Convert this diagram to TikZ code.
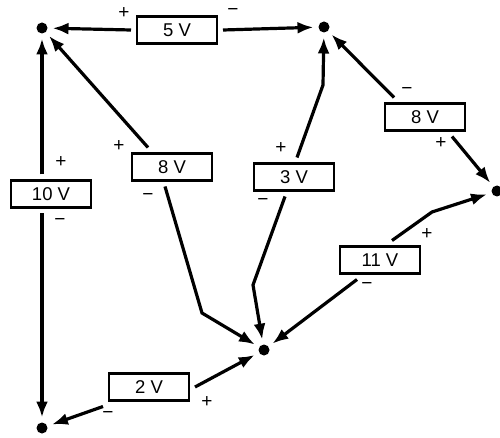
\documentclass[tikz,border=0pt]{standalone}
\usepackage{fontspec}
\setmainfont{Liberation Sans}
\usetikzlibrary{arrows.meta}

\tikzset{
  dot/.style={circle, fill, inner sep=0pt, minimum size=11pt, outer sep=5pt},
  vbox/.style={draw, line width=2.6pt, minimum width=80pt, minimum height=27pt, inner sep=0pt, outer sep=6pt, font=\fontsize{18.5}{20}\selectfont},
  sgn/.style={font=\fontsize{19}{20}\selectfont, inner sep=0pt},
  arr/.style={line width=3.2pt, -{Latex[length=16pt,width=12pt]}}
}

\begin{document}
\begin{tikzpicture}[x=1pt, y=-1pt]
\useasboundingbox (0,0) rectangle (500,438);
% junctions
\node[dot] (a) at (42,28) {};
\node[dot] (b) at (324,27) {};
\node[dot] (d) at (497,191) {};
\node[dot] (c) at (264,350) {};
\node[dot] (e) at (42,428) {};
% sources
\node[vbox] (v5) at (177,30) {5 V};
\node[vbox] (v10) at (51,194) {10 V};
\node[vbox] (v8a) at (172,167) {8 V};
\node[vbox] (v3) at (294,177) {3 V};
\node[vbox] (v8b) at (425,117) {8 V};
\node[vbox] (v11) at (380,260) {11 V};
\node[vbox] (v2) at (149,387) {2 V};
% bends
\coordinate (k1) at (202,313);
\coordinate (k2) at (323,85);
\coordinate (k3) at (253,285);
\coordinate (k4) at (432,212);
% connectors
\draw[arr] (v5.west) -- (a);
\draw[arr] (v5.east) -- (b);
\draw[arr] (v10.north -| a) -- (a);
\draw[arr] (v10.south -| e) -- (e);
\draw[arr] ([xshift=-24pt]v8a.north) -- (a);
\draw[arr] ([xshift=-7pt]v8a.south) -- (k1) -- (c);
\draw[arr] ([xshift=3pt]v3.north) -- (k2) -- (b);
\draw[arr] ([xshift=-9pt]v3.south) -- (k3) -- (c);
\draw[arr] ([xshift=-31pt]v8b.north) -- (b);
\draw[arr] ([xshift=27pt]v8b.south) -- (d);
\draw[arr] ([xshift=12pt]v11.north) -- (k4) -- (d);
\draw[arr] ([xshift=-23pt]v11.south) -- (c);
\draw[arr] (v2.east) -- (c);
\draw[arr] (v2.south west) -- (e);
% polarities
\node[sgn] (p5) at (124,13) {+};
\node[sgn] (m5) at (233,12) {−};
\node[sgn] (p10) at (61,162) {+};
\node[sgn] (m10) at (60,222) {−};
\node[sgn] (p8a) at (119,146) {+};
\node[sgn] (m8a) at (148,197) {−};
\node[sgn] (p3) at (281,148) {+};
\node[sgn] (m3) at (263,202) {−};
\node[sgn] (m8b) at (407,91) {−};
\node[sgn] (p8b) at (441,143) {+};
\node[sgn] (p11) at (427,234) {+};
\node[sgn] (m11) at (367,286) {−};
\node[sgn] (p2) at (207,402) {+};
\node[sgn] (m2) at (108,415) {−};
\end{tikzpicture}
\end{document}
